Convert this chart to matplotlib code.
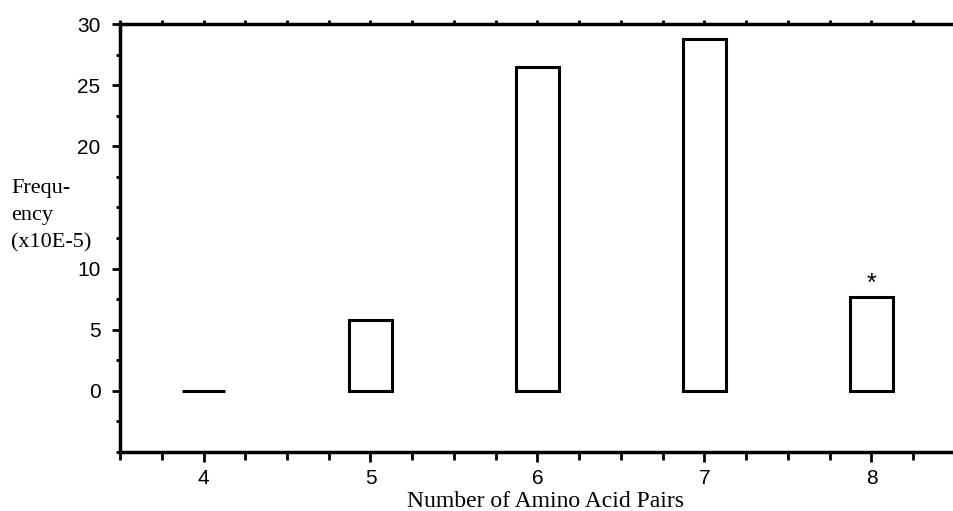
import numpy as np
import matplotlib
matplotlib.use("Agg")
from matplotlib import pyplot as plt
from matplotlib.ticker import MultipleLocator, FixedLocator

# values (x10E-5)
pairs = [4, 5, 6, 7, 8]
freq = [0, 5.8, 26.5, 28.8, 7.7]
starred = [8]
ytick_vals = [0, 5, 10, 20, 25, 30]

fig = plt.figure(figsize=(9.54, 5.11), dpi=100)
ax = fig.add_axes([0.1258, 0.1155, 0.8752, 0.8375])

ax.bar(pairs, freq, width=0.26, color="white", edgecolor="black", linewidth=2.2)
for p in starred:
    ax.text(p, freq[pairs.index(p)] + 0.1, "*", ha="center", va="bottom",
            fontsize=18, family="Liberation Sans")

ax.set_xlim(3.5, 8.5)
ax.set_ylim(-5, 30)

ax.spines["right"].set_visible(False)
for s in ["left", "bottom", "top"]:
    ax.spines[s].set_linewidth(2.5)

ax.xaxis.set_major_locator(FixedLocator(pairs))
ax.xaxis.set_minor_locator(MultipleLocator(0.25))
ax.yaxis.set_major_locator(FixedLocator(ytick_vals))
ax.yaxis.set_minor_locator(MultipleLocator(2.5))

ax.tick_params(axis="x", which="major", direction="out", length=7, width=2,
               top=True, pad=5, labelsize=15)
ax.tick_params(axis="x", which="minor", direction="out", length=6, width=2, top=True)
ax.tick_params(axis="y", which="major", direction="out", length=6, width=2,
               pad=8, labelsize=15)
ax.tick_params(axis="y", which="minor", direction="out", length=3, width=2)
for t in ax.xaxis.get_major_ticks() + ax.xaxis.get_minor_ticks():
    t.tick2line.set_markersize(3)
for lab in ax.get_xticklabels() + ax.get_yticklabels():
    lab.set_family("Liberation Sans")

fig.text(0.012, 0.578, "Frequ-\nency\n(x10E-5)", ha="left", va="center",
         fontsize=16, family="Liberation Serif", linespacing=1.6)
fig.text(0.572, 0.008, "Number of Amino Acid Pairs", ha="center", va="baseline",
         fontsize=17, family="Liberation Serif")

fig.savefig("out.png", dpi=100)
